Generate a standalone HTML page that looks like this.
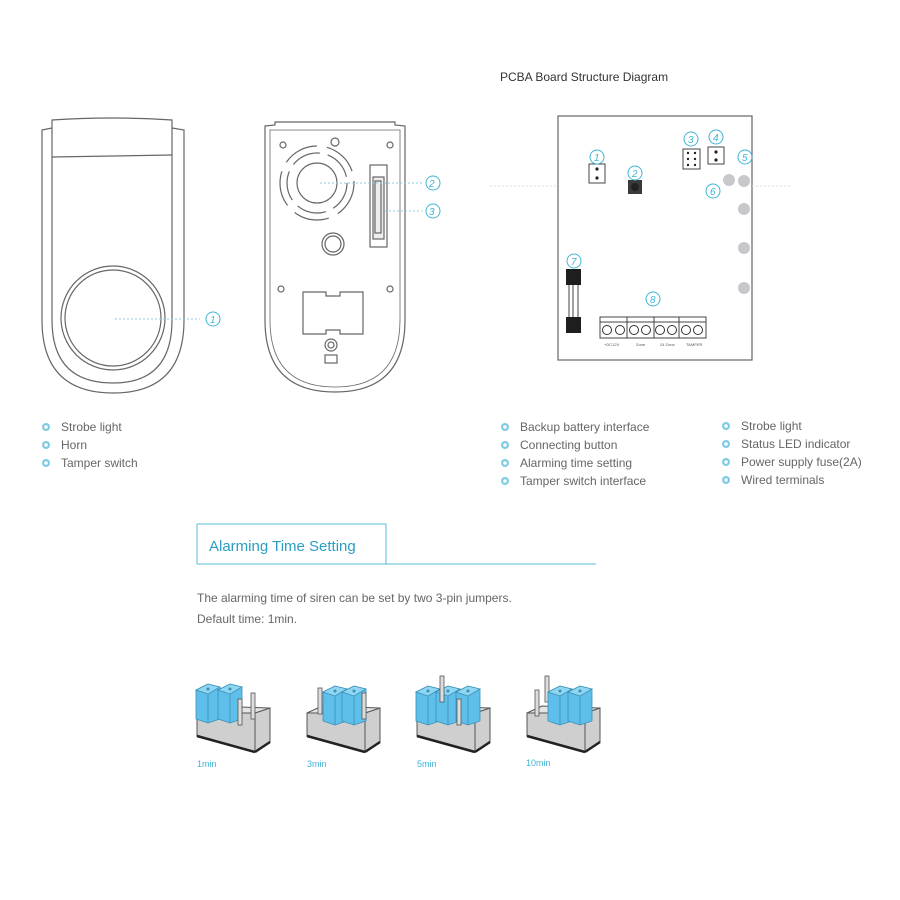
<!DOCTYPE html>
<html><head><meta charset="utf-8"><style>
html,body{margin:0;padding:0;background:#fff}
svg{display:block}
text{font-family:"Liberation Sans",sans-serif}
</style></head><body>
<svg width="900" height="900" viewBox="0 0 900 900" xmlns="http://www.w3.org/2000/svg">
<defs>
<g id="cn"><circle r="7" fill="none" stroke="#3fb5d6" stroke-width="1"/></g>
<g id="bul"><circle r="4" fill="#7fcbe3"/><circle r="1.8" fill="#fff"/></g>
<g id="base">
<polygon points="197,713 255,713 270,708 270,742 255,752 197,736" fill="#cfcfcf" stroke="#555"/>
<polygon points="197,713 212,706 270,708 255,713" fill="#e4e4e4" stroke="#555"/>
<line x1="255" y1="713" x2="255" y2="752" stroke="#555"/>
<line x1="197" y1="736" x2="255" y2="752" stroke="#222" stroke-width="2.5"/>
<line x1="255" y1="752" x2="270" y2="742" stroke="#222" stroke-width="2.5"/>
</g>
<g id="blk">
<polygon points="0,9 12,3 24,6 24,38 12,42 0,38" fill="#5ec0ea" stroke="#3a8fb5" stroke-width="0.8"/>
<polygon points="0,9 12,3 24,6 12,13" fill="#8fd6f3" stroke="#3a8fb5" stroke-width="0.8"/>
<line x1="12" y1="13" x2="12" y2="42" stroke="#3a8fb5" stroke-width="0.8"/>
<circle cx="12" cy="8" r="1.5" fill="#3a8fb5"/>
</g>
<g id="pin"><rect x="0" y="0" width="4" height="26" fill="#ddd" stroke="#555" stroke-width="0.8"/></g>
</defs>

<!-- Front device -->
<g fill="none" stroke="#666" stroke-width="1.2">
<path d="M42,130 L52,128 L52,120 Q112,116 172,120 L172,128 L184,130 L184,320 Q184,393 113,393 Q42,393 42,320 Z"/>
<path d="M52,128 L52,320 Q52,383 113,383 Q172,383 172,320 L172,128"/>
<line x1="52" y1="157" x2="172" y2="155"/>
<circle cx="113" cy="318" r="52"/>
<circle cx="113" cy="318" r="48"/>
</g>
<line x1="115" y1="319" x2="200" y2="319" stroke="#8ccbe0" stroke-dasharray="2,2"/>
<use href="#cn" x="213" y="319"/><text x="210" y="323" font-size="10" fill="#3fb5d6" font-style="italic">1</text>

<!-- Back device -->
<g fill="none" stroke="#666" stroke-width="1.2">
<path d="M265,126 L275,125 L275,122 L395,122 L395,125 L405,126 L405,320 Q405,392 335,392 Q265,392 265,320 Z"/>
<path d="M270,130 L400,130 L400,320 Q400,387 335,387 Q270,387 270,320 Z" stroke-width="0.8"/>
<circle cx="283" cy="145" r="3"/><circle cx="390" cy="145" r="3"/>
<circle cx="281" cy="289" r="3"/><circle cx="390" cy="289" r="3"/>
<circle cx="335" cy="142" r="4"/>
<circle cx="317" cy="183" r="20"/>
<circle cx="317" cy="183" r="30" stroke-dasharray="30,8"/>
<circle cx="317" cy="183" r="37" stroke-dasharray="36,10"/>
<rect x="370" y="165" width="17" height="82" fill="#fff"/>
<rect x="373" y="177" width="11" height="62" fill="#eee"/>
<rect x="375" y="181" width="6" height="52"/>
<circle cx="333" cy="244" r="11"/><circle cx="333" cy="244" r="8"/>
<path d="M303,292 L326,292 L326,296 L340,296 L340,292 L363,292 L363,334 L340,334 L340,330 L326,330 L326,334 L303,334 Z"/>
<circle cx="331" cy="345" r="6"/><circle cx="331" cy="345" r="3"/>
<rect x="325" y="355" width="12" height="8"/>
</g>
<line x1="320" y1="183" x2="422" y2="183" stroke="#8ccbe0" stroke-dasharray="2,2"/>
<line x1="385" y1="211" x2="422" y2="211" stroke="#8ccbe0" stroke-dasharray="2,2"/>
<use href="#cn" x="433" y="183"/><text x="429" y="187" font-size="10" fill="#3fb5d6" font-style="italic">2</text>
<use href="#cn" x="433" y="211"/><text x="429" y="215" font-size="10" fill="#3fb5d6" font-style="italic">3</text>

<!-- PCB -->
<text x="500" y="81" font-size="12" fill="#333">PCBA Board Structure Diagram</text>
<rect x="558" y="116" width="194" height="244" fill="#fff" stroke="#666" stroke-width="1.2"/>
<g fill="#fff" stroke="#444" stroke-width="1">
<rect x="589" y="164" width="16" height="19"/>
<rect x="683" y="149" width="17" height="20"/>
<rect x="708" y="147" width="16" height="17"/>
</g>
<g fill="#222">
<circle cx="597" cy="169" r="1.6"/><circle cx="597" cy="178" r="1.6"/>
<circle cx="716" cy="152" r="1.6"/><circle cx="716" cy="160" r="1.6"/>
<circle cx="688" cy="153" r="1.2"/><circle cx="695" cy="153" r="1.2"/>
<circle cx="688" cy="159" r="1.2"/><circle cx="695" cy="159" r="1.2"/>
<circle cx="688" cy="165" r="1.2"/><circle cx="695" cy="165" r="1.2"/>
</g>
<rect x="628" y="180" width="14" height="14" fill="#3a3a3a"/><circle cx="635" cy="187" r="4" fill="#222"/>
<g fill="#c8c8cc"><circle cx="744" cy="181" r="6"/><circle cx="729" cy="180" r="6"/><circle cx="744" cy="209" r="6"/><circle cx="744" cy="248" r="6"/><circle cx="744" cy="288" r="6"/></g>
<line x1="490" y1="186" x2="558" y2="186" stroke="#ddd" stroke-dasharray="2,2"/>
<line x1="752" y1="186" x2="790" y2="186" stroke="#ddd" stroke-dasharray="2,2"/>
<rect x="566" y="269" width="15" height="16" fill="#1e1e1e"/>
<rect x="566" y="317" width="15" height="16" fill="#1e1e1e"/>
<g stroke="#444"><line x1="569" y1="285" x2="569" y2="317"/><line x1="573" y1="285" x2="573" y2="317"/><line x1="578" y1="285" x2="578" y2="317"/></g>
<rect x="600" y="317" width="106" height="21" fill="#fff" stroke="#444"/>
<g stroke="#444"><line x1="600" y1="322" x2="706" y2="322"/><line x1="627" y1="317" x2="627" y2="338"/><line x1="654" y1="317" x2="654" y2="338"/><line x1="679" y1="317" x2="679" y2="338"/></g>
<g fill="#fff" stroke="#333">
<circle cx="607" cy="330" r="4.5"/><circle cx="620" cy="330" r="4.5"/><circle cx="634" cy="330" r="4.5"/><circle cx="646" cy="330" r="4.5"/>
<circle cx="660" cy="330" r="4.5"/><circle cx="672" cy="330" r="4.5"/><circle cx="686" cy="330" r="4.5"/><circle cx="698" cy="330" r="4.5"/>
</g>
<g font-size="4" fill="#555"><text x="604" y="346">+DC12V</text><text x="636" y="346">Zone</text><text x="660" y="346">24 Zone</text><text x="686" y="346">TAMPER</text></g>
<g fill="#3fb5d6" font-size="10" font-style="italic">
<use href="#cn" x="597" y="157"/><text x="594" y="161">1</text>
<use href="#cn" x="635" y="173"/><text x="632" y="177">2</text>
<use href="#cn" x="691" y="139"/><text x="688" y="143">3</text>
<use href="#cn" x="716" y="137"/><text x="713" y="141">4</text>
<use href="#cn" x="745" y="157"/><text x="742" y="161">5</text>
<use href="#cn" x="713" y="191"/><text x="710" y="195">6</text>
<use href="#cn" x="574" y="261"/><text x="571" y="265">7</text>
<use href="#cn" x="653" y="299"/><text x="650" y="303">8</text>
</g>

<!-- Legends -->
<g font-size="12" fill="#666">
<use href="#bul" x="46" y="427"/><text x="61" y="431">Strobe light</text>
<use href="#bul" x="46" y="445"/><text x="61" y="449">Horn</text>
<use href="#bul" x="46" y="463"/><text x="61" y="467">Tamper switch</text>
<use href="#bul" x="505" y="427"/><text x="520" y="431">Backup battery interface</text>
<use href="#bul" x="505" y="445"/><text x="520" y="449">Connecting button</text>
<use href="#bul" x="505" y="463"/><text x="520" y="467">Alarming time setting</text>
<use href="#bul" x="505" y="481"/><text x="520" y="485">Tamper switch interface</text>
<use href="#bul" x="726" y="426"/><text x="741" y="430">Strobe light</text>
<use href="#bul" x="726" y="444"/><text x="741" y="448">Status LED indicator</text>
<use href="#bul" x="726" y="462"/><text x="741" y="466">Power supply fuse(2A)</text>
<use href="#bul" x="726" y="480"/><text x="741" y="484">Wired terminals</text>
</g>

<!-- Alarming time -->
<rect x="197" y="524" width="189" height="40" fill="none" stroke="#5bbcd8" stroke-width="1"/>
<line x1="386" y1="564" x2="596" y2="564" stroke="#5bbcd8"/>
<text x="209" y="551" font-size="15" fill="#2a9ec4">Alarming Time Setting</text>
<text x="197" y="602" font-size="12" fill="#666">The alarming time of siren can be set by two 3-pin jumpers.</text>
<text x="197" y="623" font-size="12" fill="#666">Default time: 1min.</text>

<!-- 1min -->
<use href="#base"/>
<use href="#blk" x="196" y="681"/><use href="#blk" x="218" y="681"/>
<use href="#pin" x="238" y="699"/><use href="#pin" x="251" y="693"/>
<!-- 3min -->
<use href="#base" x="110"/>
<use href="#pin" x="318" y="688"/>
<use href="#blk" x="323" y="683"/><use href="#blk" x="342" y="683"/>
<use href="#pin" x="362" y="693" />
<!-- 5min -->
<use href="#base" x="220"/>
<use href="#blk" x="416" y="683"/><use href="#blk" x="436" y="683"/><use href="#blk" x="456" y="683"/>
<use href="#pin" x="440" y="676"/><use href="#pin" x="457" y="699"/>
<!-- 10min -->
<use href="#base" x="330"/>
<use href="#pin" x="535" y="690"/><use href="#pin" x="545" y="676"/>
<use href="#blk" x="548" y="683"/><use href="#blk" x="568" y="683"/>
<g font-size="9" fill="#3fb5d6"><text x="197" y="767">1min</text><text x="307" y="767">3min</text><text x="417" y="767">5min</text><text x="526" y="766">10min</text></g>
</svg>
</body></html>
